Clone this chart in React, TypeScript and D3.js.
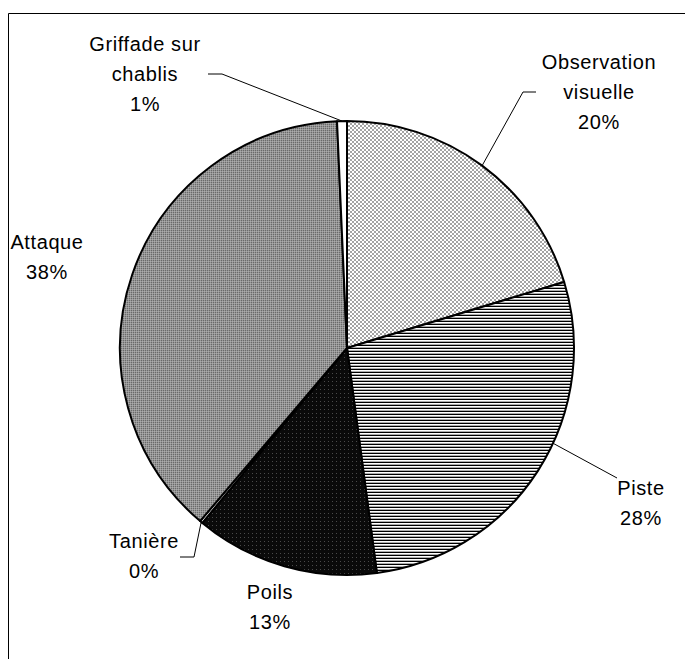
import React, { useEffect, useRef } from "react";
import * as d3 from "d3";

// slices clockwise from 12 o'clock
const categories = ["Observation\nvisuelle", "Piste", "Poils", "Tanière", "Attaque", "Griffade sur\nchablis"];
const shares = [20.3, 27.6, 13.1, 0.2, 38.1, 0.7];
const percentLabels = ["20%", "28%", "13%", "0%", "38%", "1%"];
const fills = ["url(#pObs)", "url(#pPiste)", "url(#pPoils)", "#ffffff", "url(#pAtt)", "#ffffff"];

// label anchor (text centre) and leader line elbow
const labelPos = [
  { x: 599, y: 62, leader: true, elbowX: 523, side: "left" },
  { x: 641, y: 488, leader: true, elbowX: 617, side: "left" },
  { x: 270, y: 592, leader: false },
  { x: 144, y: 541, leader: true, elbowX: 194, side: "right" },
  { x: 47, y: 242, leader: false },
  { x: 145, y: 44, leader: true, elbowX: 222, side: "right" },
];

const App = () => {
  const ref = useRef<SVGSVGElement>(null);

  useEffect(() => {
    const W = 685,
      H = 659;
    const cx = 347,
      cy = 348,
      r = 227;

    const svg = d3.select(ref.current);
    svg.selectAll("*").remove();

    const defs = svg.append("defs");

    // cross hatch
    const p1 = defs.append("pattern").attr("id", "pObs").attr("patternUnits", "userSpaceOnUse").attr("width", 4).attr("height", 4);
    p1.append("rect").attr("width", 4).attr("height", 4).attr("fill", "#fff");
    p1.append("path").attr("d", "M0,0L4,4M4,0L0,4").attr("stroke", "#999").attr("stroke-width", 0.9);

    // horizontal lines
    const p2 = defs.append("pattern").attr("id", "pPiste").attr("patternUnits", "userSpaceOnUse").attr("width", 4).attr("height", 3);
    p2.append("rect").attr("width", 4).attr("height", 3).attr("fill", "#fff");
    p2.append("rect").attr("width", 4).attr("height", 1).attr("fill", "#000");
    p2.append("rect").attr("y", 2).attr("width", 4).attr("height", 0.6).attr("fill", "#777");

    // dark dotted
    const p3 = defs.append("pattern").attr("id", "pPoils").attr("patternUnits", "userSpaceOnUse").attr("width", 4).attr("height", 4);
    p3.append("rect").attr("width", 4).attr("height", 4).attr("fill", "#0a0a0a");
    p3.append("rect").attr("x", 1).attr("y", 1).attr("width", 1).attr("height", 1).attr("fill", "#4a4a4a");

    // grey fine
    const p4 = defs.append("pattern").attr("id", "pAtt").attr("patternUnits", "userSpaceOnUse").attr("width", 2).attr("height", 2);
    p4.append("rect").attr("width", 2).attr("height", 2).attr("fill", "#959595");
    p4.append("rect").attr("width", 1).attr("height", 1).attr("fill", "#6a6a6a");
    p4.append("rect").attr("x", 1).attr("y", 1).attr("width", 1).attr("height", 1).attr("fill", "#acacac");

    svg.append("rect").attr("width", W).attr("height", H).attr("fill", "#fff");

    // frame
    svg
      .append("path")
      .attr("d", `M8.5,${H}V13.5H${W}`)
      .attr("fill", "none")
      .attr("stroke", "#000")
      .attr("stroke-width", 1);

    const pie = d3.pie<number>().sort(null).value((d) => d);
    const arcs = pie(shares);
    const arc = d3.arc<d3.PieArcDatum<number>>().innerRadius(0).outerRadius(r);

    const g = svg.append("g").attr("transform", `translate(${cx},${cy})`);
    g.selectAll("path.slice")
      .data(arcs)
      .join("path")
      .attr("class", "slice")
      .attr("d", arc)
      .attr("fill", (d, i) => fills[i])
      .attr("stroke", "#000")
      .attr("stroke-width", 2)
      .attr("stroke-linejoin", "round");

    // leader lines
    arcs.forEach((a, i) => {
      const lp = labelPos[i];
      if (!lp.leader) return;
      let mid = (a.startAngle + a.endAngle) / 2;
      if (i === 1) mid = a.startAngle + (a.endAngle - a.startAngle) * 0.42;
      const px = cx + r * Math.sin(mid);
      const py = cy - r * Math.cos(mid);
      const lineY = i === 1 ? lp.y - 10 : i === 3 ? lp.y + 16 : lp.y + 30;
      const endX = lp.side === "left" ? lp.elbowX + 13 : lp.elbowX - 14;
      svg
        .append("path")
        .attr("d", `M${px},${py}L${lp.elbowX},${lineY}` + (i === 1 ? "" : `L${endX},${lineY}`))
        .attr("fill", "none")
        .attr("stroke", "#000")
        .attr("stroke-width", 1);
    });

    // labels
    categories.forEach((c, i) => {
      const lines = c.split("\n").concat(percentLabels[i]);
      const t = svg
        .append("text")
        .attr("x", labelPos[i].x)
        .attr("y", labelPos[i].y)
        .attr("text-anchor", "middle")
        .attr("font-family", "Liberation Sans, Arial, sans-serif")
        .attr("font-size", 20)
        .attr("letter-spacing", 0.6)
        .attr("fill", "#000");
      lines.forEach((l, j) => {
        t.append("tspan")
          .attr("x", labelPos[i].x)
          .attr("dy", j === 0 ? "0.35em" : 30)
          .text(l);
      });
    });
  }, []);

  return (
    <svg
      ref={ref}
      width={685}
      height={659}
      style={{ position: "absolute", left: 0, top: 0 }}
    />
  );
};

export default App;
